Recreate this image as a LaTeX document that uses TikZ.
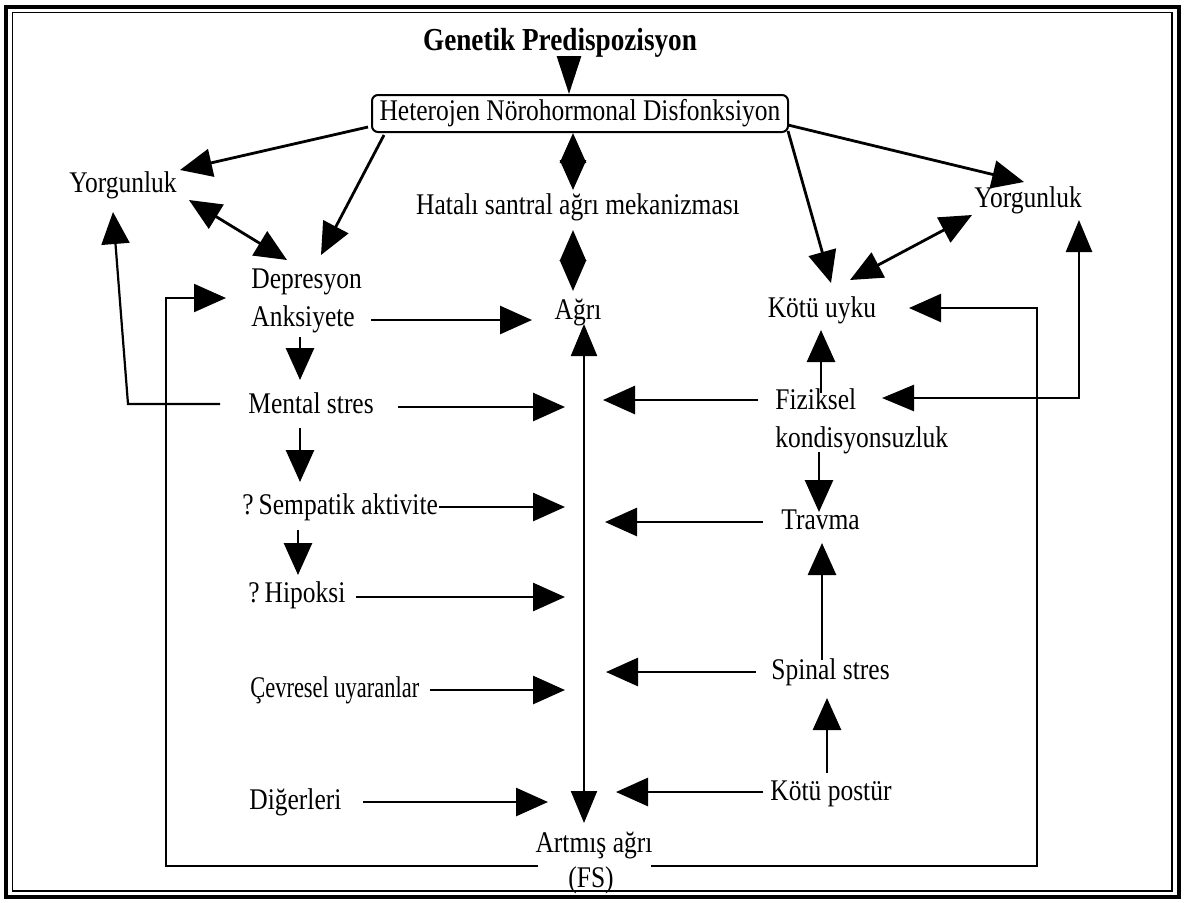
\documentclass[tikz,border=0pt]{standalone}
\usepackage{fontspec}
\setmainfont{Liberation Serif}[FakeStretch=0.85]
\usetikzlibrary{arrows.meta,calc}
\begin{document}
\begin{tikzpicture}[x=0.5pt,y=-0.5pt,
  lbl/.style={font=\fontsize{15}{17}\selectfont, inner sep=0pt},
  arr/.style={line width=1.4pt, -{Triangle[length=16pt,width=14pt]}},
  darr/.style={line width=1.4pt, {Triangle[length=16pt,width=14pt]}-{Triangle[length=16pt,width=14pt]}},
  diam/.style={line width=1.4pt, {Triangle[length=#1,width=13pt]}-{Triangle[length=#1,width=13pt]}},
  thinarr/.style={line width=1.1pt, -{Triangle[length=16pt,width=14pt]}},
  thindarr/.style={line width=1.1pt, {Triangle[length=16pt,width=13pt]}-{Triangle[length=16pt,width=13pt]}},
  frameline/.style={line width=2pt}]
\useasboundingbox (0,0) rectangle (1184,902);
% frame
\draw[frameline] (5.5,6.5) rectangle (1178.5,897);
\draw[line width=0.8pt] (12.5,12.5) rectangle (1172,891);
% nodes
\node[font=\bfseries\fontsize{16}{18}\selectfont, inner sep=0pt, anchor=base] (gen) at (560,50) {Genetik Predispozisyon};
\node[draw, rounded corners=3pt, line width=1pt, minimum width=208pt, minimum height=18.5pt, lbl] (het) at (580,113.5) {Heterojen Nörohormonal Disfonksiyon};
\node[lbl,anchor=base] (yorL) at (123,192) {Yorgunluk};
\node[lbl,anchor=base] (hat) at (578,214) {Hatalı santral ağrı mekanizması};
\node[lbl,anchor=base] (yorR) at (1028,207) {Yorgunluk};
\node[lbl,anchor=base west] (dep) at (251,288) {Depresyon};
\node[lbl,anchor=base west] (ank) at (251,326) {Anksiyete};
\node[lbl,anchor=base] (agri) at (578,319) {Ağrı};
\node[lbl,anchor=base] (kotu) at (822,317) {Kötü uyku};
\node[lbl,anchor=base west] (men) at (248,413) {Mental stres};
\node[lbl,anchor=base west] (fiz) at (775,409) {Fiziksel};
\node[lbl,anchor=base west] (kon) at (775,447) {kondisyonsuzluk};
\node[lbl,anchor=base west] (sem) at (242,514) {?\,Sempatik aktivite};
\node[lbl,anchor=base west] (tra) at (781,529) {Travma};
\node[lbl,anchor=base west] (hip) at (248,602) {?\,Hipoksi};
\node[lbl,anchor=base west] (cev) at (250,697) {\scalebox{0.88}[1]{Çevresel uyaranlar}};
\node[lbl,anchor=base west] (spi) at (771,679) {Spinal stres};
\node[lbl,anchor=base west] (dig) at (249,809) {Diğerleri};
\node[lbl,anchor=base west] (pos) at (770,800) {Kötü postür};
\node[lbl,anchor=base] (art) at (594,852) {Artmış ağrı};
\node[lbl,anchor=base] (fs) at (591,887) {(FS)};
% helper coordinates
\coordinate (axis) at (584,0);
\coordinate (bL) at (538,866);
\coordinate (bR) at (651,866);
\coordinate (loopL) at (166,866);
\coordinate (loopR) at (1037,866);
\coordinate (loopY) at (1079,398);
\coordinate (menbend) at (128,404);
% top arrows
\draw[arr, -{Triangle[length=19pt,width=12pt]}] ($(gen.base)+(9,7)$) -- ($(het.north)+(-11,0)$);
\draw[arr] ($(het.south west)+(-3,-6)$) -- ($(yorL.base)+(57,-22)$);
\draw[arr] ($(het.south west)+(13,2)$) -- ($(dep.base west)+(70,-33)$);
\draw[darr] ($(yorL.base)+(66,8)$) -- ($(dep.base west)+(36,-28)$);
\draw[diam=15pt] ($(het.south)+(-7,0)$) -- ($(hat.base)+(-5,-24)$);
\draw[diam=15.5pt] ($(hat.base)+(-5,16)$) -- ($(agri.base)+(-5,-28)$);
\draw[arr] ($(het.south east)+(-1,-2)$) -- ($(kotu.base)+(9,-34)$);
\draw[arr] ($(het.east)+(-1,11.5)$) -- ($(yorR.base)+(-4,-25)$);
\draw[darr] ($(kotu.base)+(28,-37)$) -- ($(yorR.base)+(-56,8)$);
% left column
\draw[arr] ($(ank.base east)+(16,-6)$) -- ($(agri.base)+(-46,1)$);
\draw[arr] ($(ank.base west)+(49,11)$) -- ($(men.base west)+(52,-33)$);
\draw[arr] ($(men.base east)+(24,-6)$) -- ($(men.base west -| axis)+(-19,-6)$);
\draw[arr] ($(men.base west)+(52,15)$) -- ($(sem.base west)+(58,-32)$);
\draw[arr] ($(sem.base east)+(1,-7)$) -- ($(sem.base west -| axis)+(-19,-7)$);
\draw[arr] ($(sem.base west)+(56,16)$) -- ($(hip.base west)+(50,-27)$);
\draw[arr] ($(hip.base east)+(10,-5)$) -- ($(hip.base west -| axis)+(-19,-5)$);
\draw[arr] ($(cev.base east)+(10,-7)$) -- ($(cev.base west -| axis)+(-19,-7)$);
\draw[arr] ($(dig.base east)+(21,-7)$) -- ($(dig.base west -| axis)+(-36,-7)$);
% central axis
\draw[thindarr] ($(agri.base -| axis)+(0,5)$) -- ($(art.base -| axis)+(0,-29)$);
% right column
\draw[arr] ($(fiz.base west)+(-17,-9)$) -- ($(fiz.base west -| axis)+(19,-9)$);
\draw[arr] ($(tra.base west)+(-18,-7)$) -- ($(tra.base west -| axis)+(21,-7)$);
\draw[arr] ($(spi.base west)+(-15,-7)$) -- ($(spi.base west -| axis)+(22,-7)$);
\draw[arr] ($(pos.base west)+(-7,-8)$) -- ($(pos.base west -| axis)+(32,-8)$);
\draw[arr] ($(fiz.base west)+(46,-16)$) -- ($(kotu.base)+(-1,13)$);
\draw[arr] ($(kon.base west)+(44,5)$) -- ($(tra.base west)+(38,-17)$);
\draw[arr] ($(spi.base west)+(51,-19)$) -- ($(tra.base west)+(41,14)$);
\draw[arr] ($(pos.base west)+(57,-27)$) -- ($(spi.base west)+(56,19)$);
% loops
\draw[thindarr, line width=1.3pt] ($(fiz.base west)+(107,-11)$) -- (loopY) -- ($(yorR.base -| loopY)+(0,13)$);
\draw[thinarr] ($(men.base west)+(-28,-9)$) -- (menbend) -- ($(yorL.base)+(-10,20)$);
\draw[thinarr] (bL) -- (loopL) |- ($(dep.base west)+(-25,10)$);
\draw[thinarr] (bR) -- (loopR) |- ($(kotu.base)+(87,-9)$);
\end{tikzpicture}
\end{document}
